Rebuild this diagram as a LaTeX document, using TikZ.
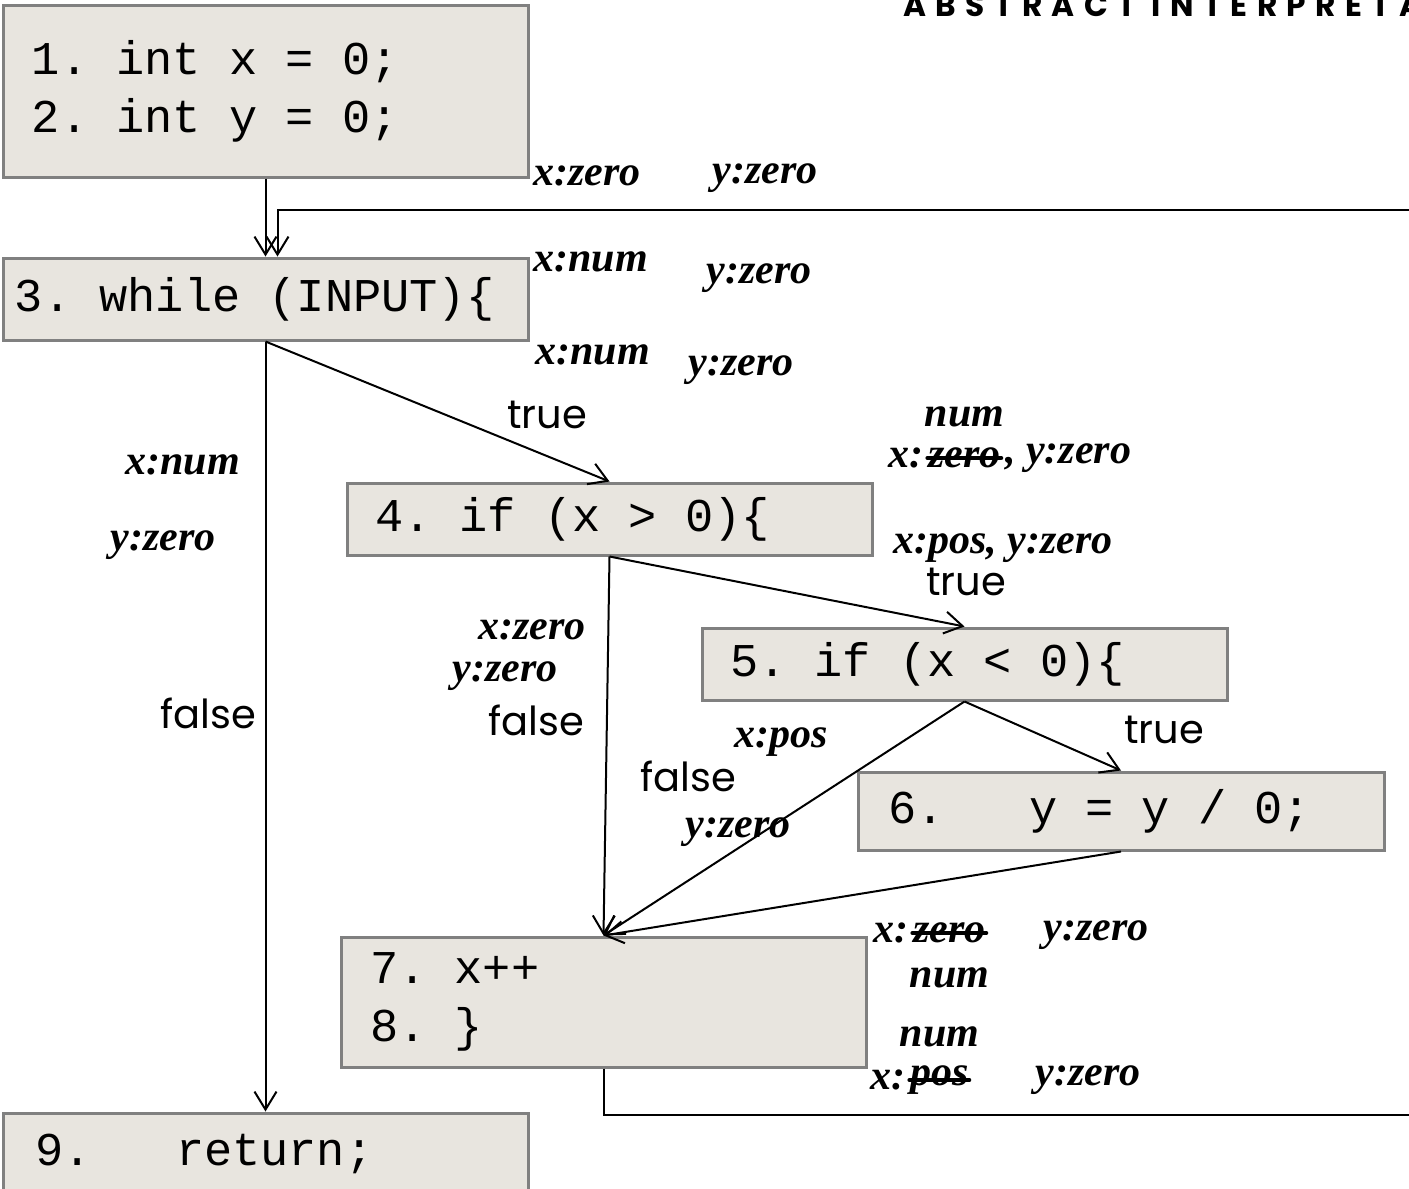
\documentclass[tikz,border=0pt]{standalone}
\usepackage{fontspec}
\setmonofont{Liberation Mono}
\newfontfamily\labelfont{Poppins}
\newfontfamily\titlefont{Poppins}[LetterSpace=30]
\newfontfamily\handfont{Liberation Serif}
\usetikzlibrary{arrows.meta}
\newlength\px
\setlength\px{0.5pt}
\definecolor{boxfill}{RGB}{232,229,223}
\definecolor{boxline}{RGB}{128,128,128}
\newcommand\codefont{\fontsize{23.5pt}{29pt}\selectfont\ttfamily}
% one fixed-width blank of the monospaced font
\newcommand\tsp{\hspace*{0.6em}}
\tikzset{
  codebox/.style n args={3}{draw=boxline, line width=1.5pt, fill=boxfill,
    minimum width=#1\px, minimum height=#2\px,
    inner xsep=#3\px, inner ysep=0pt, text width=#1\px-2*#3\px, align=left,
    font=\codefont},
  flow/.style={draw=black, line width=1pt, -{Straight Barb[length=9pt,width=11pt,line width=1pt]}},
  edgelabel/.style={font=\fontsize{20pt}{23pt}\selectfont\labelfont, inner sep=0pt},
  hand/.style={font=\fontsize{21pt}{24pt}\selectfont\handfont\bfseries\itshape, inner sep=0pt, anchor=west},
  strike/.style={line width=2.4pt, line cap=round},
}
\begin{document}
\begin{tikzpicture}[x=0.5pt,y=-0.5pt]
\useasboundingbox (0,0) rectangle (1409,1189);

% title
\node[anchor=base west, inner sep=0pt, font=\fontsize{15.6pt}{18pt}\selectfont\titlefont\bfseries]
  (title) at (903,16) {ABSTRACT INTERPRETATION};

% statement blocks
\node[codebox={525}{172}{29}] (A) at (265.5,91)
  {1.\tsp int\tsp x\tsp =\tsp 0;\\2.\tsp int\tsp y\tsp =\tsp 0;};
\node[codebox={525}{82}{12}]  (B) at (265.5,299) {3.\tsp while\tsp (INPUT)\{};
\node[codebox={525}{72}{28}]  (C) at (609.5,519) {4.\tsp if\tsp (x\tsp >\tsp 0)\{};
\node[codebox={525}{72}{28}]  (D) at (964.5,664) {5.\tsp if\tsp (x\tsp <\tsp 0)\{};
\node[codebox={526}{78}{30}]  (E) at (1121,811) {6.\tsp\tsp\tsp y\tsp =\tsp y\tsp /\tsp 0;};
\node[codebox={525}{130}{29}] (F) at (603.5,1002) {7.\tsp x++\\8.\tsp \}};
\node[codebox={525}{82}{32}]  (G) at (265.5,1154) {9.\tsp\tsp\tsp return;};

% control flow
\draw[flow] (A.south) -- (B.north);
\draw[flow] (B.south) -- (C.north);
\draw[flow] (B.south) -- (G.north);
\draw[flow] (C.south) -- (D.north);
\draw[flow] (C.south) -- (F.north);
\draw[flow] (D.south) -- (E.north);
\draw[flow] (D.south) -- (F.north);
\draw[flow] (E.south) -- (F.north);
\coordinate (loopBR) at (1440,1115);
\coordinate (loopTR) at (1440,210);
\draw[flow] (F.south) |- (loopBR) -- (loopTR) -| ([xshift=12\px]B.north);

% branch labels
\node[edgelabel] (t1) at (547,415) {true};
\node[edgelabel] (f1) at (208,713) {false};
\node[edgelabel] (t2) at (966,582) {true};
\node[edgelabel] (f2) at (536,720) {false};
\node[edgelabel] (t3) at (1164,730) {true};
\node[edgelabel] (f3) at (688,776) {false};

% abstract states
\node[hand] (s1x) at (533,176) {x:zero};
\node[hand] (s1y) at (712,178) {y:zero};
\node[hand] (s2x) at (533,262) {x:num};
\node[hand] (s2y) at (706,278) {y:zero};
\node[hand] (s3x) at (535,355) {x:num};
\node[hand] (s3y) at (688,370) {y:zero};

\node[hand] (s4a) at (888,458) {x:};
\node[hand] (s4b) at ([xshift=4\px]s4a.east) {zero};
\node[hand] (s4c) at ([xshift=4\px]s4b.east) {, y:zero};
\draw[strike] (s4b.west) -- (s4b.east);
\node[hand, anchor=south] (s4n) at ([yshift=20\px]s4b.north) {num};

\node[hand] (s5) at (893,548) {x:pos, y:zero};

\node[hand] (s6x) at (125,465) {x:num};
\node[hand] (s6y) at (110,545) {y:zero};

\node[hand] (s7x) at (478,630) {x:zero};
\node[hand] (s7y) at (452,676) {y:zero};

\node[hand] (s8x) at (734,742) {x:pos};
\node[hand] (s8y) at (685,832) {y:zero};

\node[hand] (s9a) at (873,933) {x:};
\node[hand] (s9b) at ([xshift=4\px]s9a.east) {zero};
\draw[strike] (s9b.west) -- (s9b.east);
\node[hand, anchor=north] (s9n) at ([yshift=-24\px]s9b.south) {num};
\node[hand] (s9y) at (1043,935) {y:zero};

\node[hand] (s10a) at (870,1080) {x:};
\node[hand] (s10b) at ([xshift=4\px]s10a.east) {pos};
\draw[strike] (s10b.west) -- (s10b.east);
\node[hand, anchor=south] (s10n) at ([yshift=18\px]s10b.north) {num};
\node[hand] (s10y) at (1035,1080) {y:zero};
\end{tikzpicture}
\end{document}
